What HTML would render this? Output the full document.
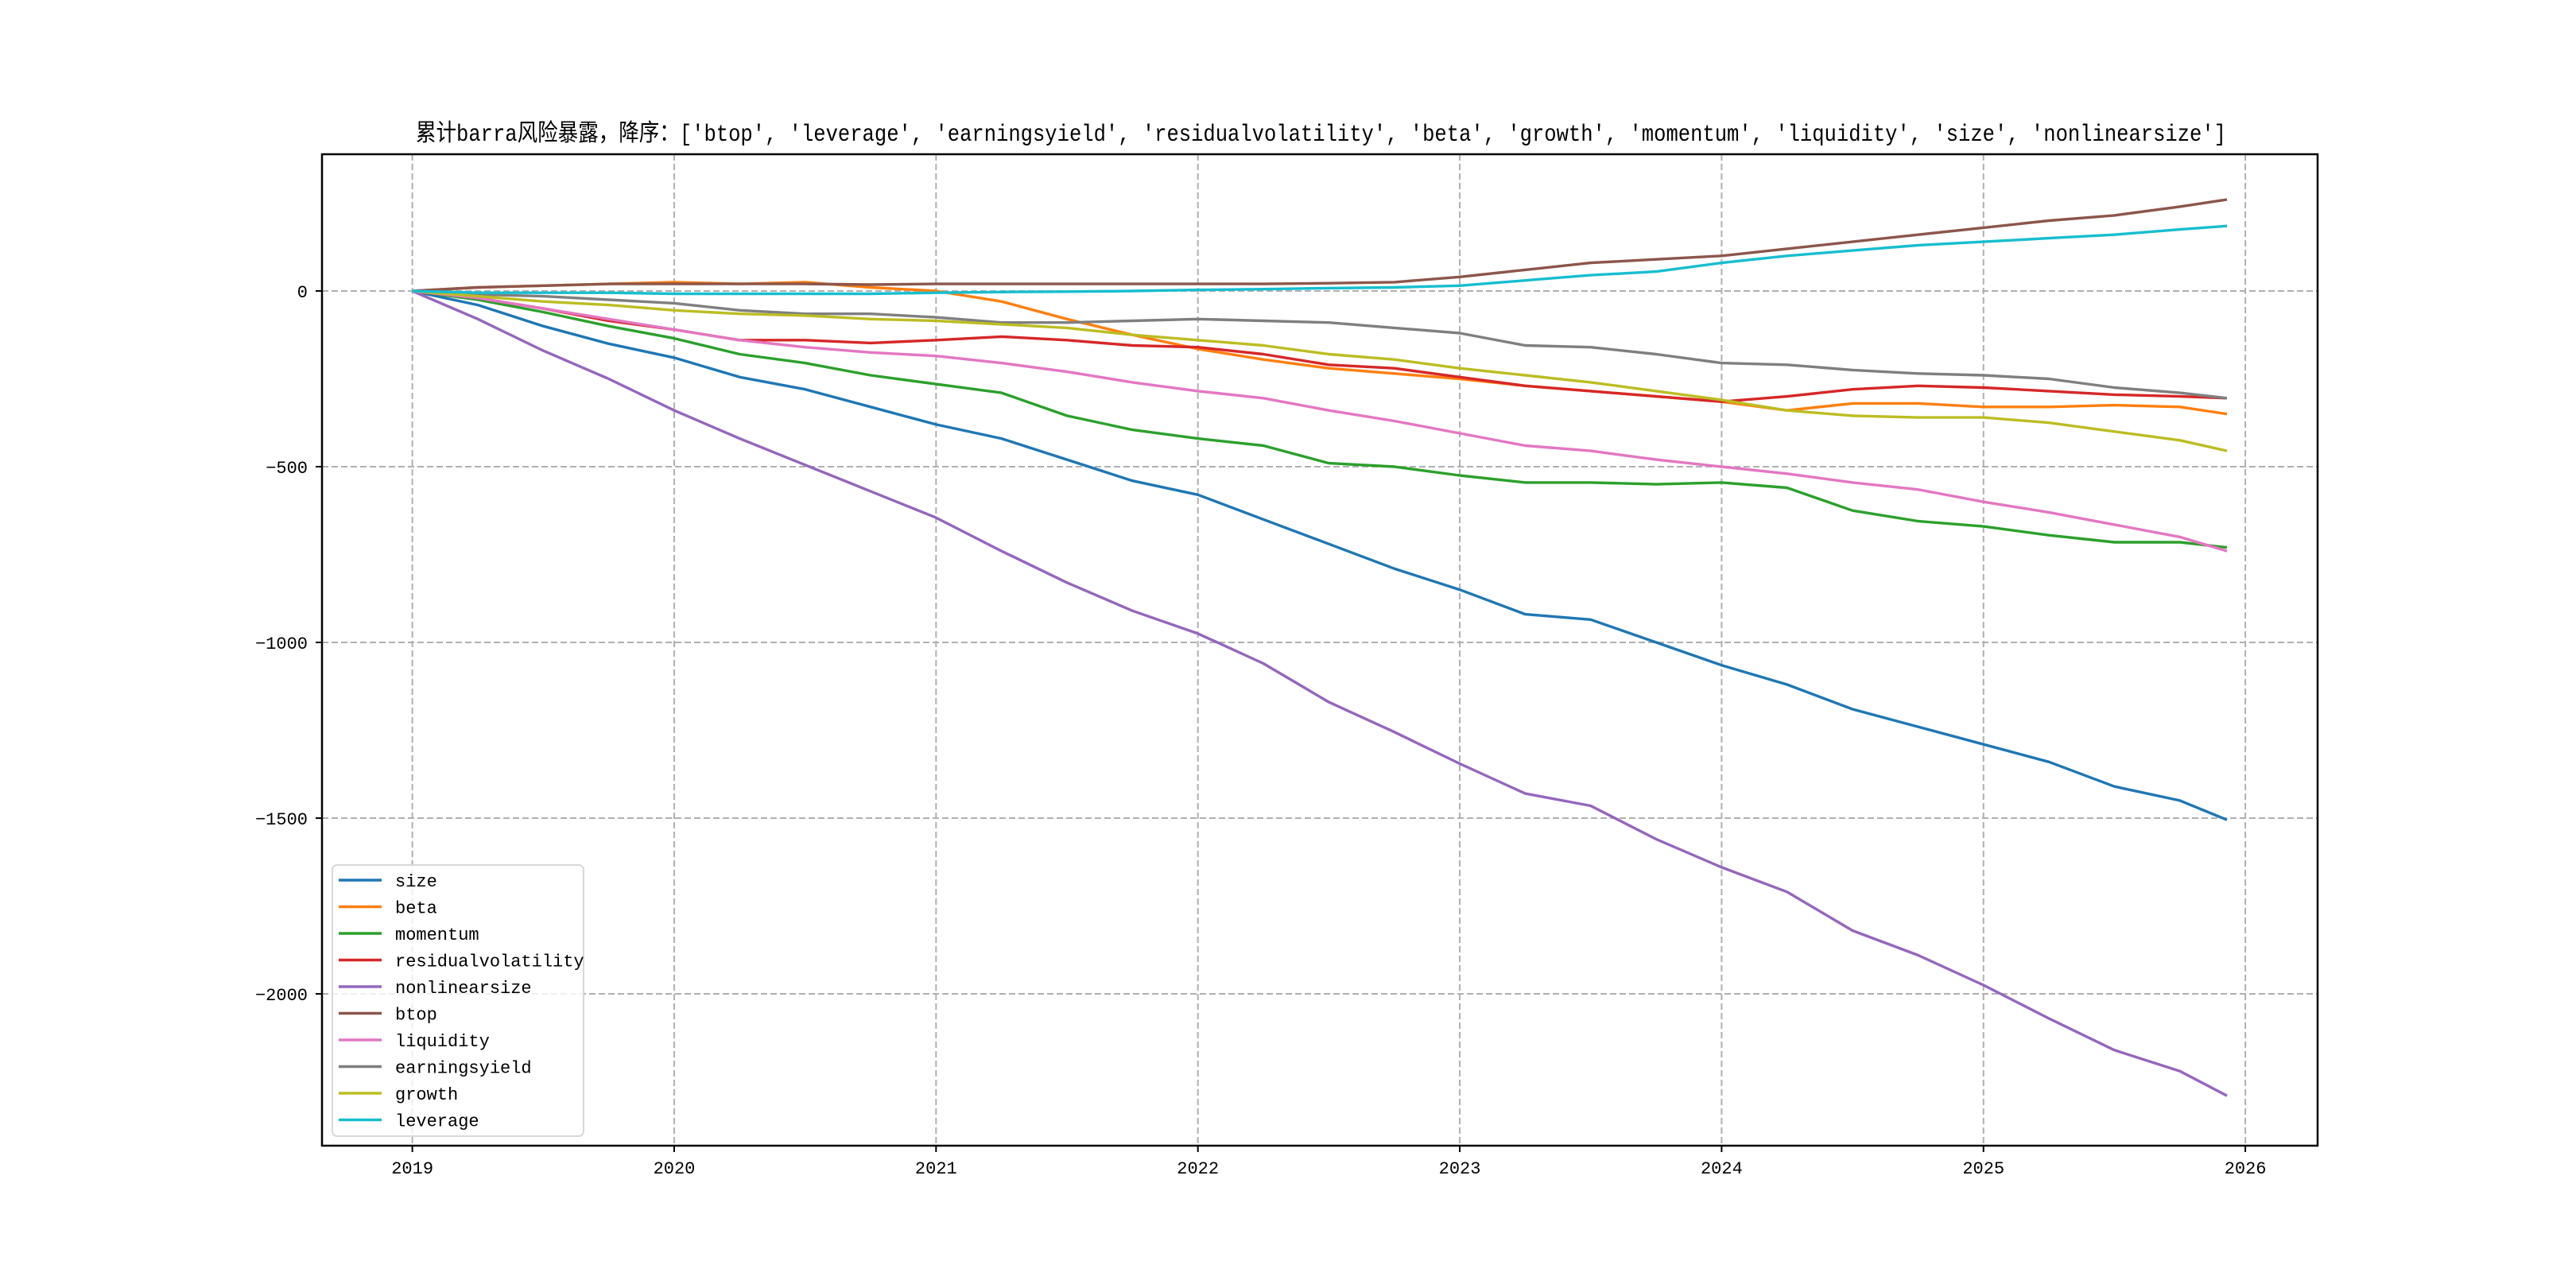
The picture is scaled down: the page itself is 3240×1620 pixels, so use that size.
<!DOCTYPE html>
<html><head><meta charset="utf-8"><style>
html,body{margin:0;padding:0;background:#fff;}
svg{display:block;font-family:"Liberation Mono","WenQuanYi Zen Hei","Noto Sans CJK SC",monospace;}
</style></head><body>
<svg id="chart" width="3240" height="1620" viewBox="0 0 3240 1620">
<rect width="3240" height="1620" fill="#fff"/>
<text x="523" y="177" textLength="2277" lengthAdjust="spacingAndGlyphs" font-size="30" fill="#000">累计barra风险暴露，降序：['btop', 'leverage', 'earningsyield', 'residualvolatility', 'beta', 'growth', 'momentum', 'liquidity', 'size', 'nonlinearsize']</text>
<g id="grid"></g>
<g id="series"></g>
<rect x="405" y="194" width="2510" height="1247" fill="none" stroke="#000" stroke-width="2.5"/>
<g id="ticks"></g>
<g id="legend"></g>
</svg>
<script>
const xTickLabels = ['2019','2020','2021','2022','2023','2024','2025','2026'];
const xTickValues = [2019,2020,2021,2022,2023,2024,2025,2026];
const yTickValues = [0,-500,-1000,-1500,-2000];
const yTickLabels = ['0','\u2212500','\u22121000','\u22121500','\u22122000'];
const seriesNames = ['size','beta','momentum','residualvolatility','nonlinearsize','btop','liquidity','earningsyield','growth','leverage'];
const seriesColors = ['#1f77b4','#ff7f0e','#2ca02c','#d62728','#9467bd','#8c564b','#e377c2','#7f7f7f','#bcbd22','#17becf'];
const dates = [2019,2019.25,2019.5,2019.75,2020,2020.25,2020.5,2020.75,2021,2021.25,2021.5,2021.75,2022,2022.25,2022.5,2022.75,2023,2023.25,2023.5,2023.75,2024,2024.25,2024.5,2024.75,2025,2025.25,2025.5,2025.75,2025.93];
const sizeVals = [0,-40,-100,-150,-190,-245,-280,-330,-380,-420,-480,-540,-580,-650,-720,-790,-850,-920,-935,-1000,-1065,-1120,-1190,-1240,-1290,-1340,-1410,-1450,-1505];
const betaVals = [0,10,15,20,25,20,25,10,0,-30,-80,-125,-165,-195,-220,-235,-250,-270,-285,-300,-315,-340,-320,-320,-330,-330,-325,-330,-350];
const momentumVals = [0,-25,-60,-100,-135,-180,-205,-240,-265,-290,-355,-395,-420,-440,-490,-500,-525,-545,-545,-550,-545,-560,-625,-655,-670,-695,-715,-715,-730];
const residualVals = [0,-20,-50,-85,-110,-140,-140,-148,-140,-130,-140,-155,-160,-180,-210,-220,-245,-270,-285,-300,-315,-300,-280,-270,-275,-285,-295,-300,-305];
const nonlinVals = [0,-80,-170,-250,-340,-420,-495,-570,-645,-740,-830,-910,-975,-1060,-1170,-1255,-1345,-1430,-1465,-1560,-1640,-1710,-1820,-1890,-1975,-2070,-2160,-2220,-2290];
const btopVals = [0,10,15,20,20,20,20,18,20,20,20,20,20,20,22,25,40,60,80,90,100,120,140,160,180,200,215,240,260];
const liquidityVals = [0,-20,-50,-80,-110,-140,-160,-175,-185,-205,-230,-260,-285,-305,-340,-370,-405,-440,-455,-480,-500,-520,-545,-565,-600,-630,-665,-700,-740];
const earningsVals = [0,-10,-15,-25,-35,-55,-65,-65,-75,-90,-90,-85,-80,-85,-90,-105,-120,-155,-160,-180,-205,-210,-225,-235,-240,-250,-275,-290,-305];
const growthVals = [0,-15,-30,-40,-55,-65,-70,-80,-85,-95,-105,-125,-140,-155,-180,-195,-220,-240,-260,-285,-310,-340,-355,-360,-360,-375,-400,-425,-455];
const leverageVals = [0,-5,-5,-5,-8,-8,-8,-8,-5,-3,-2,0,3,5,8,10,15,30,45,55,80,100,115,130,140,150,160,175,185];
const allSeries = [sizeVals,betaVals,momentumVals,residualVals,nonlinVals,btopVals,liquidityVals,earningsVals,growthVals,leverageVals];

const NS='http://www.w3.org/2000/svg';
const L=405,R=2915,T=194,B=1441;
const xMin=2018.655,xMax=2026.276,yMin=-2432,yMax=389;
function xs(v){return L+(v-xMin)/(xMax-xMin)*(R-L);}
function ys(v){return B-(v-yMin)/(yMax-yMin)*(B-T);}
function mk(tag,attrs,parent){const e=document.createElementNS(NS,tag);for(const k in attrs)e.setAttribute(k,attrs[k]);parent.appendChild(e);return e;}
const grid=document.getElementById('grid'),ticks=document.getElementById('ticks'),ser=document.getElementById('series'),leg=document.getElementById('legend');

xTickValues.forEach((v,i)=>{
  const x=xs(v);
  const g=mk('line',{x1:x,x2:x,y1:T,y2:B,stroke:'#b0b0b0','stroke-width':2,'stroke-dasharray':'8,4'},grid);
  
  
  const t=mk('line',{x1:x,x2:x,y1:B,y2:B+8,stroke:'#000','stroke-width':2},ticks);
  
  
  const tx=mk('text',{x:x,y:B+35,'text-anchor':'middle','font-size':22,fill:'#000'},ticks);
  tx.textContent=xTickLabels[i];
  
  
});
yTickValues.forEach((v,i)=>{
  const y=ys(v);
  const g=mk('line',{x1:L,x2:R,y1:y,y2:y,stroke:'#b0b0b0','stroke-width':2,'stroke-dasharray':'8,4'},grid);
  
  
  const t=mk('line',{x1:L-8,x2:L,y1:y,y2:y,stroke:'#000','stroke-width':2},ticks);
  
  
  const tx=mk('text',{x:L-18,y:y+8,'text-anchor':'end','font-size':22,fill:'#000'},ticks);
  tx.textContent=yTickLabels[i];
  
  
});
allSeries.forEach((vals,si)=>{
  const pts=vals.map((v,i)=>xs(dates[i]).toFixed(1)+','+ys(v).toFixed(1)).join(' ');
  const p=mk('polyline',{points:pts,fill:'none',stroke:seriesColors[si],'stroke-width':3.4,'stroke-linejoin':'round'},ser);
  
  
});
const box=mk('rect',{x:418,y:1088,width:316,height:341,rx:6,fill:'#fff','fill-opacity':0.8,stroke:'#d8d8d8','stroke-width':2},leg);


seriesNames.forEach((n,i)=>{
  const y=1107+i*33.5;
  const l=mk('line',{x1:426,x2:480,y1:y,y2:y,stroke:seriesColors[i],'stroke-width':3.4},leg);
  
  
  const t=mk('text',{x:497,y:y+8,'font-size':22,fill:'#000'},leg);
  t.textContent=n;
  
  
});
</script>
</body></html>
